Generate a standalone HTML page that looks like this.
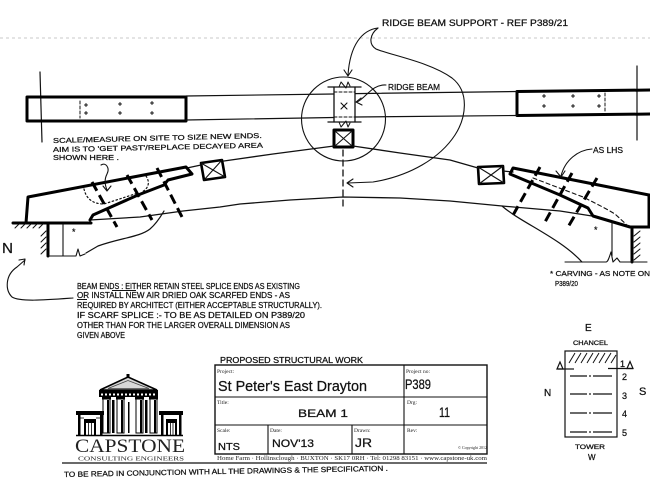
<!DOCTYPE html>
<html><head><meta charset="utf-8">
<style>
html,body{margin:0;padding:0;background:#fff;}
svg{display:block;}
.h{font-family:"Liberation Sans",sans-serif;fill:#111;stroke:#111;stroke-width:0.25;}
.s{font-family:"Liberation Serif",serif;fill:#222;}
</style></head><body>
<svg width="650" height="488" viewBox="0 0 650 488" xmlns="http://www.w3.org/2000/svg">
<rect width="650" height="488" fill="#fff"/>

<line x1="0" y1="38" x2="650" y2="38" stroke="#c8c8c8" stroke-width="1" stroke-dasharray="3 3"/>

<g stroke="#111" fill="none" stroke-linecap="round" stroke-linejoin="round">
  <line x1="40" y1="72" x2="42" y2="142" stroke-width="1.2"/>
  <line x1="637" y1="66" x2="637" y2="140" stroke-width="1.2"/>

  <rect x="27" y="97" width="159" height="24" stroke="#000" stroke-width="3"/>
  <path d="M652 90 L517 91.5 L517 115.5 L652 114" stroke="#000" stroke-width="3"/>
  <path d="M186 96 L334 94" stroke-width="1.2"/>
  <path d="M355 93.6 L517 91.5" stroke-width="1.2"/>
  <path d="M186 120 L334 117.5" stroke-width="1.2"/>
  <path d="M355 117 L517 115.5" stroke-width="1.2"/>

  <line x1="80" y1="101" x2="80" y2="118" stroke-width="1" stroke-dasharray="3 2"/>
  <path d="M84.5 105 h3 M86 103.5 v3 M84.5 113 h3 M86 111.5 v3 M118.5 104 h3 M120 102.5 v3 M118.5 113 h3 M120 111.5 v3 M150.5 103 h3 M152 101.5 v3 M150.5 113 h3 M152 111.5 v3" stroke-width="1"/>
  <line x1="605" y1="93" x2="605" y2="113" stroke-width="1" stroke-dasharray="3 2"/>
  <path d="M542.5 96 h3 M544 94.5 v3 M542.5 106 h3 M544 104.5 v3 M571.5 96 h3 M573 94.5 v3 M571.5 106 h3 M573 104.5 v3 M597.5 96 h3 M599 94.5 v3 M597.5 106 h3 M599 104.5 v3" stroke-width="1"/>

  <line x1="334" y1="87" x2="334" y2="122" stroke-width="1.3"/>
  <line x1="355" y1="87" x2="355" y2="122" stroke-width="1.3"/>
  <line x1="328" y1="87" x2="361" y2="87" stroke-width="1.3"/>
  <line x1="328" y1="122" x2="361" y2="122" stroke-width="1.3"/>
  <path d="M339 87 L341 82 L346 88 L348 82 L350 86" stroke-width="1"/>
  <path d="M339 122 L341 127 L346 121 L348 127 L350 123" stroke-width="1"/>
  <line x1="334" y1="92" x2="355" y2="92" stroke-width="1" stroke-dasharray="3 2"/>
  <line x1="334" y1="117" x2="355" y2="117" stroke-width="1" stroke-dasharray="3 2"/>
  <path d="M341 103 L347 109 M347 103 L341 109" stroke-width="1.1"/>

  <circle cx="343.5" cy="119" r="42" stroke-width="1.1"/>

  <rect x="334" y="130" width="19" height="17" stroke="#000" stroke-width="3"/>
  <path d="M335 131 L352 146 M352 131 L335 146" stroke-width="1.1"/>
  <polygon points="201,163 222,160 225,177 204,180" stroke="#000" stroke-width="2.6"/>
  <path d="M201 163 L225 177 M222 160 L204 180" stroke-width="1.1"/>
  <polygon points="478,167 503,166 504,183 479,184" stroke="#000" stroke-width="2.6"/>
  <path d="M478 167 L504 183 M503 166 L479 184" stroke-width="1.1"/>

  <line x1="343" y1="150" x2="343" y2="206" stroke-width="1.3" stroke-dasharray="6 4"/>

  <polyline points="187,168 201,165" stroke-width="1.3"/>
  <polyline points="224,161 273,154 334,146" stroke-width="1.3"/>
  <polyline points="353,146 400,153 450,160 478,168" stroke-width="1.3"/>
  <polyline points="503,171 513,172" stroke-width="1.3"/>

  <polyline points="90,220 140,217 183,211 220,207 240,204 290,200 343,197 400,198 450,201 502,206 560,211 592,216" stroke-width="1.3"/>

  <path d="M13 223 L91 223" stroke="#000" stroke-width="3"/>
  <path d="M26 223 L28 197 L186 167 L192 174 L168 180 L164 185 L138 195 L93 215 L90 220" stroke="#000" stroke-width="3"/>
  <path d="M84 189 C 86 198, 92 204, 104 204 L 138 193 M 146 176 C 150 182, 149 188, 142 192" stroke-width="1.2" stroke-dasharray="1.5 2.5"/>
  <path d="M92 182 L117 227 M127 175 L152 220 M157 168 L182 217" stroke="#000" stroke-width="3" stroke-dasharray="10 5" stroke-linecap="butt"/>

  <path d="M649 195 L513 168 L510 174 L560 195 L588 208 L593 216 L630 227 L650 227" stroke="#000" stroke-width="3"/>
  <path d="M649 195 L649 227" stroke="#000" stroke-width="3"/>
  <path d="M533 178 L583 197 C 595 203, 605 208, 615 214 L628 226" stroke-width="1.1" stroke-dasharray="4 3"/>
  <path d="M540 167 L512 217 M572 173 L545 222 M597 178 L568 227" stroke="#000" stroke-width="3" stroke-dasharray="10 5" stroke-linecap="butt"/>

  <path d="M15 228 L19 224 M21 228 L25 224 M27 228 L31 224 M33 228 L37 224 M39 228 L43 224" stroke-width="1"/>
  <line x1="48" y1="224" x2="48" y2="256" stroke="#000" stroke-width="3"/>
  <path d="M41 236 L46 231 M41 242 L46 237 M41 248 L46 243 M41 254 L46 249" stroke-width="1"/>
  <line x1="63" y1="224" x2="63" y2="256" stroke-width="1.1"/>
  <path d="M48 256 L73 256 L76 256 L78 249 L80 256 L85 254" stroke-width="1.1"/>
  <path d="M86 253 L98 246 C 120 238, 140 237, 150 229 C 157 223, 161 216, 164 211" stroke-width="1.2"/>

  <line x1="632" y1="227" x2="632" y2="262" stroke="#000" stroke-width="3"/>
  <path d="M634 236 L640 231 M634 242 L640 237 M634 248 L640 243 M634 254 L640 249 M634 260 L640 255" stroke-width="1"/>
  <line x1="612" y1="222" x2="612" y2="256" stroke-width="1.1"/>
  <path d="M565 262 L606 262 C 608 262, 609 258, 611 252 L613 262 L617 258 L620 262 L647 262" stroke-width="1.1"/>
  <path d="M502 206 C 520 222, 560 238, 582 262" stroke-width="1.2"/>

  <path d="M378 28 C 362 30, 350 45, 348 75" stroke-width="1.1"/>
  <polyline points="344,70 348,76 352,70" stroke-width="1.1"/>
  <path d="M378 28 C 370 34, 368 44, 376 49 C 390 55, 430 62, 452 78 C 470 92, 466 118, 455 135 C 440 158, 410 176, 373 182 L 348 183" stroke-width="1.1"/>
  <polyline points="353,179 347,183 353,187" stroke-width="1.1"/>
  <path d="M386 85 C 372 84, 366 98, 357 102" stroke-width="1.1"/>
  <polyline points="361,98 356,102 362,105" stroke-width="1.1"/>
  <path d="M101 165 C 106 162, 110 168, 107 174 C 104 180, 105 185, 107 190" stroke-width="1.1"/>
  <polyline points="103,186 107,191 111,186" stroke-width="1.1"/>
  <path d="M592 149 C 578 150, 565 160, 561 176" stroke-width="1.1"/>
  <polyline points="556,171 561,177 565,171" stroke-width="1.1"/>
  <path d="M73 298 C 45 300, 20 302, 12 297 C 5 290, 5 275, 17 267 L 25 260" stroke-width="1.1"/>
  <polyline points="19,260 25,259 24,265" stroke-width="1.1"/>
</g>

<text class="h" x="382" y="26" font-size="9.5" textLength="186" lengthAdjust="spacingAndGlyphs">RIDGE BEAM SUPPORT - REF P389/21</text>
<text class="h" x="388" y="90" font-size="8.5" textLength="52" lengthAdjust="spacingAndGlyphs">RIDGE BEAM</text>
<text class="h" x="53" y="143" font-size="7" textLength="209" lengthAdjust="spacingAndGlyphs" transform="rotate(-1.4 53 143)">SCALE/MEASURE ON SITE TO SIZE NEW ENDS.</text>
<text class="h" x="53" y="152" font-size="7" textLength="210" lengthAdjust="spacingAndGlyphs" transform="rotate(-1.2 53 152)">AIM IS TO 'GET PAST'/REPLACE DECAYED AREA</text>
<text class="h" x="53" y="160" font-size="7" textLength="66" lengthAdjust="spacingAndGlyphs">SHOWN HERE .</text>
<text class="h" x="593" y="153" font-size="8.5" textLength="30" lengthAdjust="spacingAndGlyphs">AS LHS</text>
<text class="h" x="72" y="235" font-size="9">*</text>
<text class="h" x="594" y="233" font-size="9">*</text>
<text class="h" x="2" y="253" font-size="15" textLength="11" lengthAdjust="spacingAndGlyphs">N</text>
<text class="h" x="550" y="276" font-size="7.5" textLength="100" lengthAdjust="spacingAndGlyphs">* CARVING - AS NOTE ON</text>
<text class="h" x="555" y="286" font-size="7.5" textLength="23" lengthAdjust="spacingAndGlyphs">P389/20</text>

<g class="h" font-size="8">
<text x="77" y="289" textLength="223" lengthAdjust="spacingAndGlyphs">BEAM ENDS : EITHER RETAIN STEEL SPLICE ENDS AS EXISTING</text>
<text x="77" y="298" textLength="213" lengthAdjust="spacingAndGlyphs">OR INSTALL NEW AIR DRIED OAK SCARFED ENDS - AS</text>
<text x="77" y="308" textLength="245" lengthAdjust="spacingAndGlyphs">REQUIRED BY ARCHITECT (EITHER ACCEPTABLE STRUCTURALLY).</text>
<text x="77" y="318" textLength="228" lengthAdjust="spacingAndGlyphs">IF SCARF SPLICE :- TO BE AS DETAILED ON P389/20</text>
<text x="77" y="328" textLength="213" lengthAdjust="spacingAndGlyphs">OTHER THAN FOR THE LARGER OVERALL DIMENSION AS</text>
<text x="77" y="338" textLength="48" lengthAdjust="spacingAndGlyphs">GIVEN ABOVE</text>
</g>
<line x1="112" y1="290.5" x2="136" y2="290.5" stroke="#111" stroke-width="1"/>
<line x1="77" y1="299.5" x2="87" y2="299.5" stroke="#111" stroke-width="1"/>

<text class="h" x="220" y="363" font-size="8" textLength="143" lengthAdjust="spacingAndGlyphs">PROPOSED STRUCTURAL WORK</text>
<g stroke="#111" fill="none">
  <rect x="215" y="365" width="272" height="89" stroke-width="1.4"/>
  <line x1="215" y1="397" x2="487" y2="397" stroke-width="1.1"/>
  <line x1="215" y1="425" x2="487" y2="425" stroke-width="1.1"/>
  <line x1="404" y1="365" x2="404" y2="454" stroke-width="1.1"/>
  <line x1="268" y1="425" x2="268" y2="454" stroke-width="1.1"/>
  <line x1="352" y1="425" x2="352" y2="454" stroke-width="1.1"/>
  <line x1="62" y1="463" x2="487" y2="463" stroke-width="1.2"/>
</g>
<g class="s" font-size="5.5">
<text x="217" y="373">Project:</text>
<text x="406" y="373">Project no:</text>
<text x="217" y="404">Title:</text>
<text x="407" y="404">Drg:</text>
<text x="217" y="432">Scale:</text>
<text x="270" y="432">Date:</text>
<text x="354" y="432">Drawn:</text>
<text x="407" y="432">Rev:</text>
</g>
<text class="s" x="458" y="449" font-size="4" textLength="29" lengthAdjust="spacingAndGlyphs">© Copyright 2012</text>
<text class="s" x="217" y="460" font-size="6" textLength="270" lengthAdjust="spacingAndGlyphs">Home Farm · Hollinsclough · BUXTON · SK17 0RH · Tel: 01298 83151 · www.capstone-uk.com</text>

<text class="h" x="218" y="391" font-size="15" textLength="149" lengthAdjust="spacingAndGlyphs">St Peter's East Drayton</text>
<text class="h" x="405" y="389" font-size="14" textLength="26" lengthAdjust="spacingAndGlyphs">P389</text>
<text class="h" x="298" y="417" font-size="11" textLength="50" lengthAdjust="spacingAndGlyphs">BEAM 1</text>
<text class="h" x="439" y="417" font-size="14" textLength="11" lengthAdjust="spacingAndGlyphs">11</text>
<text class="h" x="218" y="450" font-size="10" textLength="22" lengthAdjust="spacingAndGlyphs">NTS</text>
<text class="h" x="272" y="447" font-size="11" textLength="42" lengthAdjust="spacingAndGlyphs">NOV'13</text>
<text class="h" x="355" y="447" font-size="12" textLength="17" lengthAdjust="spacingAndGlyphs">JR</text>

<text class="h" x="64" y="477" font-size="7.5" textLength="324" lengthAdjust="spacingAndGlyphs" transform="rotate(-1.1 64 477)">TO BE READ IN CONJUNCTION WITH ALL THE DRAWINGS &amp; THE SPECIFICATION .</text>

<g>
  <polygon points="100,390 128,377 157,390" fill="#d8d8d8" stroke="#000" stroke-width="1.6"/>
  <polygon points="108,388.5 128,380.5 149,388.5" fill="none" stroke="#444" stroke-width="0.8"/>
  <rect x="126.5" y="374" width="3" height="3" fill="#000"/>
  <rect x="99" y="390" width="59" height="7" fill="#000"/>
  <g fill="#fff">
    <rect x="101" y="393.5" width="2" height="2"/><rect x="105" y="393.5" width="2" height="2"/><rect x="109" y="393.5" width="2" height="2"/><rect x="113" y="393.5" width="2" height="2"/><rect x="117" y="393.5" width="2" height="2"/><rect x="121" y="393.5" width="2" height="2"/><rect x="125" y="393.5" width="2" height="2"/><rect x="129" y="393.5" width="2" height="2"/><rect x="133" y="393.5" width="2" height="2"/><rect x="137" y="393.5" width="2" height="2"/><rect x="141" y="393.5" width="2" height="2"/><rect x="145" y="393.5" width="2" height="2"/><rect x="149" y="393.5" width="2" height="2"/><rect x="153" y="393.5" width="2" height="2"/>
  </g>
  <g fill="#fff" stroke="#000" stroke-width="1">
    <rect x="103" y="399" width="7" height="34"/>
    <rect x="117" y="399" width="7" height="34"/>
    <rect x="136" y="399" width="7" height="34"/>
    <rect x="150" y="399" width="7" height="34"/>
  </g>
  <g fill="#000">
    <rect x="102" y="397" width="9" height="2.5"/><rect x="116" y="397" width="9" height="2.5"/><rect x="135" y="397" width="9" height="2.5"/><rect x="149" y="397" width="9" height="2.5"/>
    <rect x="107" y="400" width="2" height="33"/><rect x="121" y="400" width="2" height="33"/><rect x="140" y="400" width="2" height="33"/><rect x="154" y="400" width="2" height="33"/>
    <rect x="112" y="400" width="2.5" height="33"/><rect x="145" y="400" width="2.5" height="33"/>
    <rect x="128" y="402" width="1.5" height="31"/>
    <rect x="76" y="411" width="28" height="4"/>
    <rect x="159" y="411" width="24" height="4"/>
    <rect x="78" y="415" width="2.5" height="20"/><rect x="100" y="415" width="2.5" height="20"/>
    <rect x="161" y="415" width="2.5" height="20"/><rect x="179" y="415" width="2.5" height="20"/>
    <rect x="84" y="419" width="12" height="16"/>
    <rect x="166" y="419" width="11" height="16"/>
  </g>
  <g fill="#fff">
    <rect x="86" y="423" width="8" height="12"/>
    <rect x="168" y="423" width="7" height="12"/>
  </g>
  <g stroke="#000" stroke-width="0.8">
    <line x1="88.5" y1="423" x2="88.5" y2="435"/><line x1="91.5" y1="423" x2="91.5" y2="435"/>
    <line x1="170.5" y1="423" x2="170.5" y2="435"/><line x1="173" y1="423" x2="173" y2="435"/>
    <line x1="80" y1="418" x2="84" y2="418"/><line x1="96" y1="418" x2="100" y2="418"/>
  </g>
  <line x1="76" y1="435.5" x2="183" y2="435.5" stroke="#000" stroke-width="1.6"/>
</g>
<text class="s" x="75" y="452" font-size="19" textLength="110" lengthAdjust="spacingAndGlyphs" fill="#222">CAPSTONE</text>
<text class="s" x="78" y="460.5" font-size="6.5" textLength="106" lengthAdjust="spacingAndGlyphs" fill="#333">CONSULTING ENGINEERS</text>

<g stroke="#111" fill="none" stroke-width="1.2">
  <rect x="565" y="351" width="52" height="86"/>
  <path d="M569 363 L575 353 M575 363 L581 353 M581 363 L587 353 M587 363 L593 353 M593 363 L599 353 M599 363 L605 353 M605 363 L611 353 M611 363 L616 355" stroke-width="1"/>
  <line x1="558" y1="369" x2="574" y2="369"/>
  <line x1="608" y1="368.5" x2="633" y2="368.5"/>
  <polygon points="557,369 560,362 563,369" stroke-width="1.2"/>
  <polygon points="627,368.5 630,361.5 633,368.5" stroke-width="1.2"/>
  <path d="M570 376 H587 M593 376 H612 M570 394 H587 M593 394 H612 M570 413 H587 M593 413 H612 M570 432 H587 M593 432 H612" stroke-width="1.2"/>
</g>
<g fill="#111">
  <circle cx="590" cy="376" r="0.9"/><circle cx="590" cy="394" r="0.9"/><circle cx="590" cy="413" r="0.9"/><circle cx="590" cy="432" r="0.9"/>
</g>
<text class="h" x="585" y="331" font-size="10">E</text>
<text class="h" x="573" y="345" font-size="6" textLength="35" lengthAdjust="spacingAndGlyphs">CHANCEL</text>
<text class="h" x="620" y="367" font-size="9">1</text>
<text class="h" x="622" y="380" font-size="9">2</text>
<text class="h" x="622" y="399" font-size="9">3</text>
<text class="h" x="622" y="417" font-size="9">4</text>
<text class="h" x="622" y="436" font-size="9">5</text>
<text class="h" x="544" y="396" font-size="10">N</text>
<text class="h" x="639" y="395" font-size="11">S</text>
<text class="h" x="575" y="449" font-size="6" textLength="30" lengthAdjust="spacingAndGlyphs">TOWER</text>
<text class="h" x="588" y="460" font-size="8">W</text>
</svg>
</body></html>
